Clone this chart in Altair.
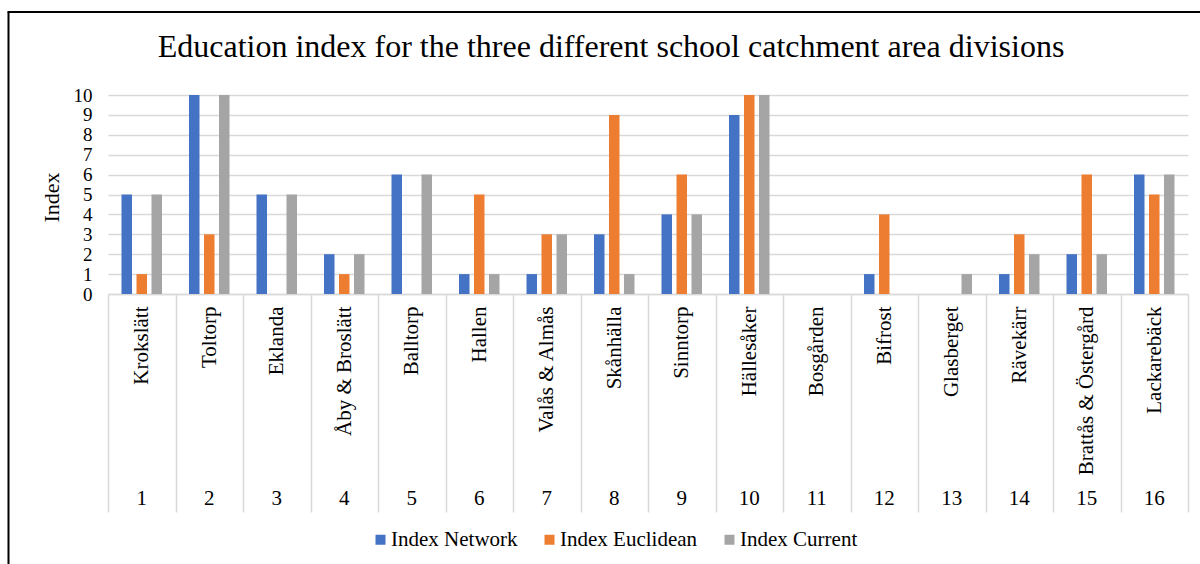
import altair as alt
import pandas as pd

# School catchment areas, numbered 1-16
area_numbers = list(range(1, 17))
areas = [
    "Krokslätt", "Toltorp", "Eklanda", "Åby & Broslätt", "Balltorp", "Hallen",
    "Valås & Almås", "Skånhälla", "Sinntorp", "Hällesåker", "Bosgården",
    "Bifrost", "Glasberget", "Rävekärr", "Brattås & Östergård", "Lackarebäck",
]

# Education index per area for each catchment division
index_network = [5, 10, 5, 2, 6, 1, 1, 3, 4, 9, 0, 1, 0, 1, 2, 6]
index_euclidean = [1, 3, 0, 1, 0, 5, 3, 9, 6, 10, 0, 4, 0, 3, 6, 5]
index_current = [5, 10, 5, 2, 6, 1, 3, 1, 4, 10, 0, 0, 1, 2, 2, 6]

series_names = ["Index Network", "Index Euclidean", "Index Current"]
series_colors = ["#4472C4", "#ED7D31", "#A5A5A5"]

rows = []
for i, area in enumerate(areas):
    for name, vals in zip(series_names, [index_network, index_euclidean, index_current]):
        rows.append({"area": area, "num": area_numbers[i], "series": name, "value": vals[i]})
df = pd.DataFrame(rows)
labels_df = pd.DataFrame({"area": areas, "num": area_numbers})

FONT = "Liberation Serif"
GRID = "#d9d9d9"
PLOT_W, PLOT_H = 1080, 199
SEP_LEN = 218  # length of the category separator lines below the axis

x_enc = alt.X(
    "area:N",
    sort=areas,
    scale=alt.Scale(paddingInner=0, paddingOuter=0),
    axis=alt.Axis(
        title=None,
        labelAngle=270,
        labelFont=FONT,
        labelFontSize=21,
        labelColor="black",
        labelPadding=12 - SEP_LEN,
        tickBand="extent",
        tickSize=SEP_LEN,
        tickColor=GRID,
        tickWidth=1.5,
        domainColor=GRID,
        domainWidth=1.5,
    ),
)

bars = alt.Chart(df).mark_bar().encode(
    x=x_enc,
    xOffset=alt.XOffset(
        "series:N", sort=series_names,
        scale=alt.Scale(paddingInner=0.3, paddingOuter=0.9),
    ),
    y=alt.Y(
        "value:Q",
        scale=alt.Scale(domain=[0, 10], nice=False),
        axis=alt.Axis(
            values=list(range(11)),
            title="Index",
            titleFont=FONT,
            titleFontSize=22,
            titleFontWeight="normal",
            titleColor="black",
            titleX=-57,
            titleY=102,
            titleAlign="center",
            titleBaseline="middle",
            labelFont=FONT,
            labelFontSize=19,
            labelColor="black",
            labelPadding=16,
            labelOverlap=False,
            ticks=False,
            domain=False,
            gridColor=GRID,
            gridWidth=1.5,
        ),
    ),
    color=alt.Color(
        "series:N",
        sort=series_names,
        scale=alt.Scale(domain=series_names, range=series_colors),
        legend=alt.Legend(
            title=None,
            orient="none",
            direction="horizontal",
            legendX=262,
            legendY=434,
            symbolType="square",
            symbolSize=100,
            symbolStrokeWidth=0,
            labelFont=FONT,
            labelFontSize=21,
            labelColor="black",
            labelOffset=0,
            columnPadding=21,
        ),
    ),
)

numbers = alt.Chart(labels_df).mark_text(
    font=FONT, fontSize=21, color="black", baseline="middle"
).encode(
    x=alt.X("area:N", sort=areas),
    y=alt.value(404),
    text="num:N",
)

# Outer frame of the figure: its left and top edges
one_row = pd.DataFrame({"k": [0]})
frame_left = alt.Chart(one_row).mark_rule(color="black", strokeWidth=2).encode(
    x=alt.value(-99.5), y=alt.value(-83), y2=alt.value(480),
)
frame_top = alt.Chart(one_row).mark_rule(color="black", strokeWidth=2).encode(
    x=alt.value(-100.5), x2=alt.value(1100), y=alt.value(-83),
)

chart = alt.layer(frame_left, frame_top, bars, numbers).properties(
    width=PLOT_W,
    height=PLOT_H,
    title=alt.TitleParams(
        "Education index for the three different school catchment area divisions",
        font=FONT,
        fontSize=32,
        fontWeight="normal",
        color="black",
        anchor="middle",
        frame="group",
        baseline="alphabetic",
        offset=0,
        dx=-37,
        dy=78,
    ),
    autosize=alt.AutoSizeParams(type="none"),
    padding={"left": 108, "top": 95, "right": 12, "bottom": 270},
).configure_view(stroke=None)

chart.save("out.html", embed_options={"renderer": "svg", "actions": False})
